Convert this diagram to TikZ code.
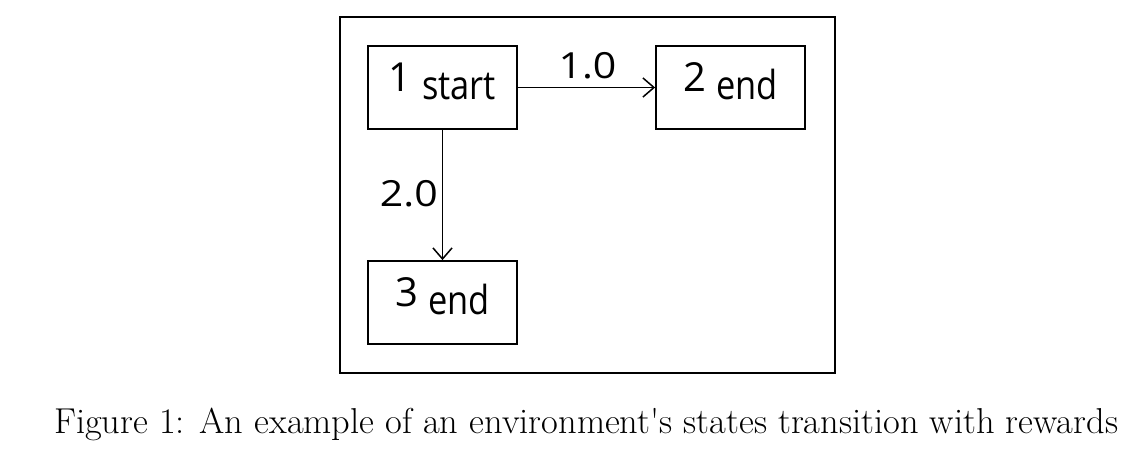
\documentclass[tikz,border=0pt]{standalone}
\usepackage{fontspec}
\usepackage{graphicx}
\usetikzlibrary{arrows.meta}
\newfontfamily\boxfont{Open Sans}
\newfontfamily\wordfont[FakeStretch=0.86]{Open Sans}
\newfontfamily\lblfont[FakeStretch=1.14]{Open Sans}
\begin{document}
\begin{tikzpicture}[x=1pt,y=-1pt,
  statebox/.style={draw, line width=1.8pt, minimum width=149pt, minimum height=83pt, inner sep=0pt, text depth=13pt, font=\boxfont\fontsize{40}{44}\selectfont},
  trans/.style={line width=1.5pt, -{Straight Barb[length=11pt,width=19pt,line width=1.5pt]}},
  lbl/.style={inner sep=0pt, font=\lblfont\fontsize{36}{40}\selectfont},
  frame/.style={draw, line width=1.8pt, minimum width=495pt, minimum height=356pt, inner sep=0pt}]
\useasboundingbox (0,0) rectangle (1140,462);
\node[frame] (fr) at (587.5,195) {};
\node[statebox] (s1) at (442.5,87.5) {\raisebox{8pt}{1} {\wordfont start}};
\node[statebox] (s2) at (730.5,87.5) {\raisebox{8pt}{2} {\wordfont end}};
\node[statebox] (s3) at (442.5,302.5) {\raisebox{8pt}{3} {\wordfont end}};
\draw[trans] (s1.east) -- (s2.west);
\draw[trans] (s1.south) -- (s3.north);
\node[lbl, anchor=base] (l1) at (587.5,79) {1.0};
\node[lbl, anchor=base east] (l2) at (438,207) {2.0};
\node[anchor=base west, inner sep=0pt, font=\fontsize{36}{40}\selectfont] (cap) at (54,433) {\resizebox{1064pt}{\height}{Figure 1: An example of an environment\textquotesingle s states transition with rewards}};
\end{tikzpicture}
\end{document}
